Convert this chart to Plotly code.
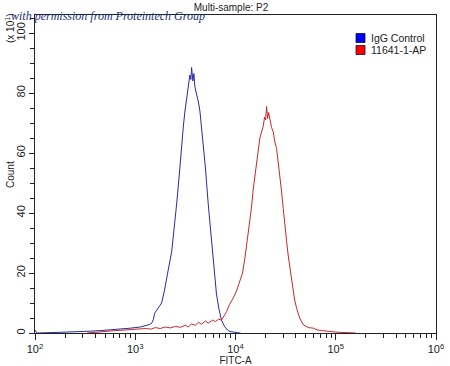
import plotly.graph_objects as go

# ---- data ----
igg_fitc = [100, 105, 166, 224, 282, 355, 447, 562, 708, 891, 1122, 1259, 1380, 1455, 1514,
            1563, 1660, 1832, 1950, 2056, 2188, 2307, 2455, 2588, 2754, 2904, 3020, 3133,
            3273, 3388, 3508, 3589, 3648, 3758, 3846, 3936, 4074, 4266, 4416, 4571, 4764,
            5012, 5346, 5623, 5998, 6237, 6457, 6839, 7244, 7762, 8318, 8810, 9550, 10470, 11220]
igg_count = [1.0, 0.0, 0.2, 0.3, 0.5, 0.6, 0.8, 1.0, 1.3, 1.6, 2.0, 2.4, 2.8, 3.2, 4.5,
             6.6, 8.0, 10, 14, 18.8, 23, 27, 35, 43, 53, 63, 69, 74,
             79, 83, 86, 84.5, 88.5, 84, 86.5, 82, 80, 77, 74, 69, 63,
             55, 43, 35, 24, 18, 13, 8, 4.3, 2.2, 1.0, 0.5, 0.2, 0.1, 0.0]

ab_fitc = [331, 398, 501, 631, 794, 1000, 1259, 1445, 1585, 1778, 1995, 2239, 2512, 2818,
           3162, 3388, 3631, 3981, 4266, 4571, 5012, 5370, 5888, 6310, 6761, 7244, 7762,
           8147, 8710, 9484, 10233, 11066, 11749, 12417, 13183, 13932, 14454, 15031, 15668,
           16218, 16866, 17498, 18197, 18923, 19498, 19953, 20417, 20893, 21380, 22080,
           22909, 23823, 24547, 25704, 26607, 27733, 28840, 29923, 30903, 32359, 33497,
           34914, 37154, 38905, 40738, 43652, 47534, 50119, 53703, 59841, 66069, 72444,
           79433, 87096, 100000, 112202, 125893, 158489]
ab_count = [0.0, 0.3, 0.5, 0.8, 1.0, 1.3, 1.5, 1.3, 1.8, 1.5, 2.0, 1.7, 2.2, 1.9,
            2.6, 2.0, 3.0, 2.6, 3.6, 2.9, 4.0, 3.3, 4.3, 3.8, 4.6, 4.3, 6.0,
            7.1, 9.5, 11.6, 14, 17, 20, 25, 31, 37, 42, 48, 53,
            57, 61, 65, 67, 69, 72, 71, 75.5, 71.5, 73.5, 70.4,
            68.5, 67, 64, 61.5, 57.5, 52.7, 47, 41.5, 36, 30.5, 26,
            21.5, 15, 11, 8.2, 5, 2.7, 2.2, 1.8, 1.6, 1.0, 0.8,
            0.6, 0.5, 0.3, 0.2, 0.1, 0.0]

series_names = ["IgG Control", "11641-1-AP"]
series_line_colors = ["#2a2aa8", "#c8282c"]
series_key_colors = ["#0000ff", "#ff0000"]
x_tickvals = [1e2, 1e3, 1e4, 1e5, 1e6]
x_ticktext = ["10<sup>2</sup>", "10<sup>3</sup>", "10<sup>4</sup>", "10<sup>5</sup>", "10<sup>6</sup>"]
x_minor = [m * 10 ** d for d in range(2, 6) for m in range(2, 10)]
y_tickvals = [0, 20, 40, 60, 80, 100]
y_ticktext = ["0", "20", "40", "60", "80", "100"]

FONT = "Liberation Sans, Arial, sans-serif"
L, R, T, B = 35, 14, 15, 33
PW, PH = 450 - L - R, 366 - T - B


def px(xp):
    return (xp - L) / PW


def py(yp):
    return (366 - B - yp) / PH


fig = go.Figure()
fig.add_trace(go.Scatter(x=igg_fitc, y=igg_count, mode="lines", name=series_names[0],
                         line=dict(color=series_line_colors[0], width=1), showlegend=False))
fig.add_trace(go.Scatter(x=ab_fitc, y=ab_count, mode="lines", name=series_names[1],
                         line=dict(color=series_line_colors[1], width=1), showlegend=False))

fig.update_layout(
    width=450, height=366,
    margin=dict(l=L, r=R, t=T, b=B, autoexpand=False),
    paper_bgcolor="white", plot_bgcolor="white",
    font=dict(family=FONT, size=11, color="#222"),
    title=dict(text="Multi-sample: P2", x=231 / 450, xanchor="center",
               y=1 - 7 / 366, yanchor="middle", font=dict(size=10, color="#222")),
    showlegend=False,
    xaxis=dict(type="log", range=[2, 6], tickvals=x_tickvals, ticktext=x_ticktext,
               ticks="outside", ticklen=6, tickcolor="#222", showgrid=False, automargin=False,
               showline=True, linecolor="#222", linewidth=1, mirror=True, zeroline=False,
               minor=dict(tickvals=x_minor, ticks="outside", ticklen=4, tickcolor="#222", showgrid=False),
               title=dict(text="FITC-A", font=dict(size=10), standoff=4),
               tickfont=dict(size=11)),
    yaxis=dict(range=[0, 106], tickvals=y_tickvals, ticktext=y_ticktext, tickangle=-90,
               ticks="outside", ticklen=5, tickcolor="#222", showgrid=False, automargin=False,
               showline=True, linecolor="#222", linewidth=1, mirror=True, zeroline=False,
               minor=dict(dtick=5, ticks="outside", ticklen=4, tickcolor="#222", showgrid=False),
               tickfont=dict(size=11)),
)

# legend key (squares + labels)
for i, (name, col) in enumerate(zip(series_names, series_key_colors)):
    yc = 38 + 12 * i
    fig.add_shape(type="rect", xref="paper", yref="paper",
                  x0=px(356), x1=px(365), y0=py(yc + 4.5), y1=py(yc - 4.5),
                  fillcolor=col, line=dict(color="#101040", width=0.8))
    fig.add_annotation(text=name, xref="paper", yref="paper", x=px(369), y=py(yc),
                       showarrow=False, xanchor="left", yanchor="middle",
                       font=dict(size=10.5, color="#222"))

fig.add_annotation(text="Count", textangle=-90, xref="paper", yref="paper",
                   x=px(10), y=py(175), showarrow=False,
                   font=dict(size=10, color="#222"), xanchor="center", yanchor="middle")
fig.add_annotation(text="(x 10<sup>1</sup>)", textangle=-90, xref="paper", yref="paper",
                   x=px(10), y=py(29), showarrow=False,
                   font=dict(size=10, color="#222"), xanchor="center", yanchor="middle")
fig.add_annotation(text="<i>with permission from Proteintech Group</i>", xref="paper", yref="paper",
                   x=px(108), y=py(16), showarrow=False,
                   font=dict(family="Liberation Serif, serif", size=12, color="#23306e"),
                   xanchor="center", yanchor="middle")

fig.write_html("out.html", config={"displayModeBar": False, "staticPlot": True},
               post_script="document.body.style.margin='0';document.body.style.padding='0';"
                           "document.documentElement.style.overflow='hidden';")
